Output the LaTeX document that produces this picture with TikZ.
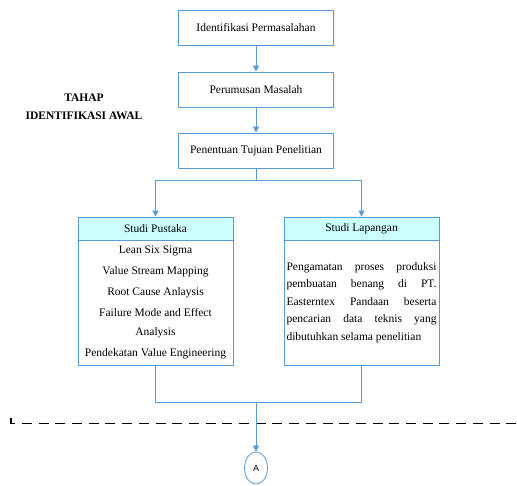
\documentclass[tikz,border=0pt]{standalone}
\usepackage{fontspec}
\setmainfont{Liberation Serif}
\newfontfamily\labelsans{Liberation Sans}
\usepackage{tikz}
\usetikzlibrary{arrows.meta,shadows,shapes.geometric}
\usepackage{xcolor}
\definecolor{flowblue}{HTML}{5B9BD5}
\definecolor{headcyan}{HTML}{CCFFFF}

\begin{document}
\begin{tikzpicture}[x=1pt,y=-1pt,>={Triangle[length=6pt,width=6pt]},
  font=\fontsize{11.5}{13}\selectfont,line cap=butt,
  flow/.style={draw=flowblue,line width=0.8pt},
  stepbox/.style={draw=flowblue,line width=0.8pt,fill=white,minimum width=155pt,minimum height=35pt,inner sep=0pt,
    drop shadow={opacity=0.12,shadow xshift=1pt,shadow yshift=-1pt}},
  headbox/.style={stepbox,fill=headcyan,minimum height=23pt},
  bodybox/.style={stepbox,minimum height=125pt}]
\useasboundingbox (0,0) rectangle (517,485);
% tahap identifikasi awal
\node[font=\fontsize{11.5}{18}\selectfont\bfseries,align=center] (tahap) at (84,107) {TAHAP\\IDENTIFIKASI AWAL};
\node[stepbox] (identifikasi) at (256,28) {Identifikasi Permasalahan};
\node[stepbox] (perumusan) at (256,89.5) {Perumusan Masalah};
\node[stepbox] (tujuan) at (256,150.5) {Penentuan Tujuan Penelitian};
\draw[flow,->] (identifikasi) -- (perumusan);
\draw[flow,->] (perumusan) -- (tujuan);
% studi pustaka dan lapangan
\node[bodybox,font=\fontsize{11.5}{19}\selectfont,align=center] (pustakaisi) at (155.5,302.5)
  {Lean Six Sigma\\[2pt] Value Stream Mapping\\[2pt] Root Cause Anlaysis\\[2pt] Failure Mode and Effect\\ Analysis\\[2pt] Pendekatan Value Engineering};
\node[headbox] (pustaka) at (155.5,228.5) {Studi Pustaka};
\node[bodybox,font=\fontsize{11.5}{17.5}\selectfont,text width=150pt,align=justify] (lapanganisi) at (361.5,302.5)
  {Pengamatan proses produksi\linebreak pembuatan benang di PT.\linebreak Easterntex Pandaan beserta\linebreak pencarian data teknis yang\linebreak dibutuhkan selama penelitian};
\node[headbox] (lapangan) at (361.5,228.5) {Studi Lapangan};
\coordinate (cabang) at (256,180.5);
\draw[flow] (tujuan) -- (cabang);
\draw[flow,->] (cabang) -| (pustaka);
\draw[flow,->] (cabang) -| (lapangan);
% gabung ke konektor A
\coordinate (gabung) at (256,402);
\draw[flow] (pustakaisi) |- (gabung);
\draw[flow] (lapanganisi) |- (gabung);
\draw[line width=1.1pt,dash pattern=on 10pt off 6.7pt] (11,417.5) -- (11,423.3) -- (517,423.3);
\node[draw=flowblue,line width=0.8pt,ellipse,minimum width=23pt,minimum height=32pt,inner sep=0pt,font=\labelsans\fontsize{9}{10}\selectfont] (konektor) at (256,468) {A};
\draw[flow,->] (gabung) -- (konektor);
\end{tikzpicture}
\end{document}
